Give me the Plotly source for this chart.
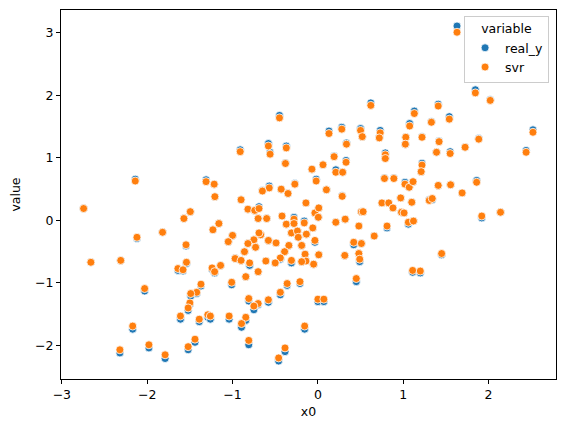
import plotly.graph_objects as go

# x0 position of every sample, and the two series plotted against it
x0 = [
    -2.14, -1.31, -1.215, -1.207, -2.745, -1.495, -1.57, -1.16, -1.23, -2.12,
    -1.82, -1.00, -1.05, -1.545, -2.66, -2.31, -1.54, -1.64, -1.58, -1.24,
    -1.21, -1.14, -2.03, -1.37, -1.42, -1.49, -1.50, -1.52, -1.61, -1.39,
    -1.29, -1.26, -1.04, -2.17, -2.32, -1.98, -1.79, -1.52, -1.44,
    0.62, -0.45, 0.13, 0.28, 0.50, 0.52, 0.73, 0.72, -0.91, -0.58,
    -0.56, -0.37, 0.335, 0.79, 0.79, 0.19, -0.38, 0.33, -0.07, 0.06,
    0.21, 0.29, -0.02, 0.78, 0.89, -0.57, -0.65, -0.43, -0.35, -0.27,
    0.10, 0.285,
    -0.90, -0.82, -0.74, -0.69, -0.70, -0.60, -0.42, -0.37, -0.28, -0.28,
    -0.31, -0.24, -0.23, -0.16, -0.14, -0.035, 0.01, 0.005, -0.06, -0.135,
    -0.035, -0.19, -0.15, -0.14, -0.19, -0.05, 0.01, -0.34, -0.39, -0.44,
    -0.50, -0.31, -0.49, -0.58, -0.67, -0.69, -0.75, -0.73, -0.82, -0.86,
    -0.97, -0.90, -0.80, -0.61, -0.70, -0.845, -1.01, -0.36, -0.21, -0.44,
    -0.81, -0.70, -0.75, -0.58, 0.00, 0.07, -0.845, -0.895, -0.81, -0.155,
    -0.385, -0.46, 0.21, 0.32, 0.48, 0.51, 0.53, 0.75, 0.83, 0.88,
    0.81, 0.66, 0.42, 0.51, 0.315, 0.48, 0.49, 0.45,
    1.63, 1.845, 2.02, 1.13, 1.41, 1.075, 1.33, 1.54, 2.52, 1.03,
    1.025, 1.22, 1.42, 1.39, 1.55, 1.725, 1.885, 2.44, 1.22, 1.21,
    1.02, 1.07, 1.115, 1.41, 1.555, 1.86, 1.69, 0.97, 1.10, 0.98,
    1.01, 1.06, 1.12, 1.305, 1.34, 1.92, 2.14, 1.45, 1.11, 1.20,
]

real_y = [
    0.66, 0.65, 0.58, 0.38, 0.19, 0.14, 0.03, -0.05, -0.15, -0.29,
    -0.19, -0.24, -0.34, -0.41, -0.67, -0.64, -0.69, -0.80, -0.81, -0.78,
    -0.84, -0.72, -1.13, -1.05, -1.17, -1.21, -1.34, -1.44, -1.58, -1.62,
    -1.55, -1.58, -1.58, -1.74, -2.12, -2.04, -2.21, -2.07, -1.95,
    1.88, 1.68, 1.43, 1.49, 1.47, 1.34, 1.44, 1.33, 1.13, 1.23,
    1.09, 1.19, 1.24, 1.08, 1.00, 1.03, 0.92, 0.96, 0.82, 0.89,
    0.81, 0.77, 0.66, 0.68, 0.68, 0.55, 0.48, 0.50, 0.43, 0.59,
    0.49, 0.395,
    0.33, 0.18, 0.16, 0.22, 0.03, 0.03, 0.07, -0.06, 0.05, -0.05,
    -0.20, -0.17, -0.27, -0.01, 0.28, 0.12, 0.20, 0.05, -0.12, -0.22,
    -0.35, -0.40, -0.54, -0.65, -0.66, -0.70, -0.55, -0.40, -0.50, -0.62,
    -0.68, -0.68, -0.36, -0.32, -0.23, -0.20, -0.31, -0.43, -0.37, -0.50,
    -0.61, -0.64, -0.72, -0.65, -0.82, -0.90, -1.03, -1.04, -1.01, -1.19,
    -1.29, -1.35, -1.43, -1.31, -1.30, -1.30, -1.60, -1.71, -1.99, -1.74,
    -2.10, -2.25, -0.03, 0.02, -0.09, 0.14, 0.14, 0.28, 0.28, 0.20,
    -0.12, -0.25, -0.39, -0.37, -0.56, -0.53, -0.66, -0.98,
    3.11, 2.09, 1.93, 1.75, 1.86, 1.55, 1.58, 1.66, 1.45, 1.33,
    1.22, 1.34, 1.27, 1.09, 1.10, 1.17, 1.31, 1.12, 0.915, 0.78,
    0.61, 0.53, 0.62, 0.56, 0.57, 0.64, 0.44, 0.36, 0.29, 0.13,
    0.12, -0.06, -0.01, 0.33, 0.33, 0.04, 0.13, -0.55, -0.83, -0.84,
]

svr = [
    0.63, 0.62, 0.58, 0.38, 0.19, 0.14, 0.03, -0.05, -0.15, -0.27,
    -0.19, -0.24, -0.34, -0.39, -0.67, -0.64, -0.67, -0.77, -0.79, -0.76,
    -0.82, -0.72, -1.09, -1.02, -1.15, -1.17, -1.32, -1.40, -1.53, -1.58,
    -1.51, -1.53, -1.53, -1.69, -2.07, -1.99, -2.15, -2.02, -1.90,
    1.84, 1.64, 1.39, 1.46, 1.44, 1.34, 1.40, 1.32, 1.10, 1.19,
    1.06, 1.16, 1.22, 1.05, 0.99, 1.02, 0.91, 0.93, 0.82, 0.89,
    0.77, 0.77, 0.63, 0.67, 0.67, 0.52, 0.47, 0.50, 0.43, 0.58,
    0.49, 0.385,
    0.33, 0.18, 0.16, 0.19, 0.03, 0.03, 0.07, -0.06, 0.02, -0.05,
    -0.20, -0.17, -0.27, -0.04, 0.28, 0.12, 0.20, 0.05, -0.12, -0.22,
    -0.32, -0.40, -0.54, -0.65, -0.66, -0.70, -0.55, -0.40, -0.50, -0.60,
    -0.68, -0.64, -0.36, -0.32, -0.23, -0.20, -0.31, -0.43, -0.37, -0.50,
    -0.61, -0.64, -0.68, -0.65, -0.82, -0.90, -0.99, -1.01, -0.98, -1.15,
    -1.25, -1.33, -1.37, -1.27, -1.26, -1.26, -1.55, -1.65, -1.92, -1.69,
    -2.04, -2.20, -0.03, 0.02, -0.09, 0.14, 0.14, 0.28, 0.28, 0.20,
    -0.09, -0.25, -0.35, -0.37, -0.56, -0.53, -0.62, -0.93,
    3.01, 2.04, 1.92, 1.71, 1.83, 1.51, 1.57, 1.62, 1.41, 1.33,
    1.22, 1.33, 1.26, 1.09, 1.07, 1.17, 1.30, 1.09, 0.885, 0.78,
    0.58, 0.53, 0.62, 0.56, 0.57, 0.61, 0.44, 0.36, 0.29, 0.13,
    0.12, -0.03, -0.01, 0.32, 0.35, 0.07, 0.13, -0.53, -0.80, -0.81,
]

x_ticks = [-3, -2, -1, 0, 1, 2]
y_ticks = [-2, -1, 0, 1, 2, 3]

FONT = "DejaVu Sans"

fig = go.Figure()

# real_y first, svr drawn on top of it
for name, values, color in [
    ("real_y", real_y, "#1f77b4"),
    ("svr", svr, "#ff7f0e"),
]:
    fig.add_trace(
        go.Scatter(
            x=x0,
            y=values,
            name=name,
            mode="markers",
            marker=dict(color=color, size=8, line=dict(color="white", width=0.8)),
        )
    )

axis_style = dict(
    showgrid=False,
    zeroline=False,
    showline=True,
    mirror=True,
    linecolor="black",
    linewidth=1,
    ticks="outside",
    ticklen=4,
    tickwidth=1,
    tickcolor="black",
    tickfont=dict(family=FONT, size=12.5, color="black"),
    automargin=False,
)

fig.update_xaxes(
    range=[-3.01, 2.79],
    tickvals=x_ticks,
    title=dict(text="x0", font=dict(family=FONT, size=12.5, color="black"), standoff=6),
    **axis_style,
)
fig.update_yaxes(
    range=[-2.537, 3.366],
    tickvals=y_ticks,
    title=dict(text="value", font=dict(family=FONT, size=12.5, color="black"), standoff=11),
    **axis_style,
)

# the page body adds an 8px margin, so the figure is 8px smaller and shifted
fig.update_layout(
    width=557,
    height=424,
    margin=dict(l=53, r=9, t=2, b=53),
    plot_bgcolor="white",
    paper_bgcolor="white",
    font=dict(family=FONT, size=12.5, color="black"),
    legend=dict(
        title=dict(text="variable", side="top center", font=dict(family=FONT, size=12.5)),
        x=0.986,
        y=0.984,
        xanchor="right",
        yanchor="top",
        bgcolor="rgba(255,255,255,0.8)",
        bordercolor="#cccccc",
        borderwidth=1,
        font=dict(family=FONT, size=12.5),
    ),
)

fig.write_html("out.html")
